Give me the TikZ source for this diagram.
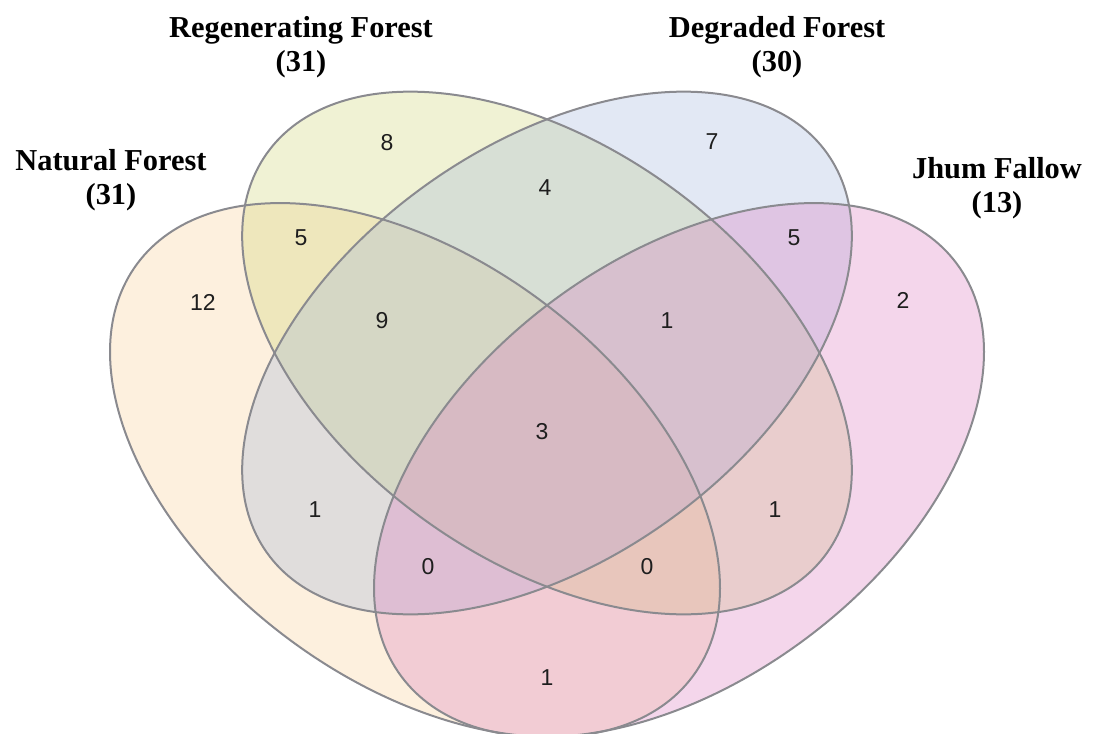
\documentclass[tikz,border=0pt]{standalone}
\usepackage{fontspec}
\setmainfont{Liberation Serif}
\newfontfamily\numfont{Liberation Sans}
\definecolor{nfcol}{RGB}{248,205,145}
\definecolor{rfcol}{RGB}{205,212,112}
\definecolor{dfcol}{RGB}{158,178,218}
\definecolor{jfcol}{RGB}{218,120,190}
\definecolor{edgecol}{RGB}{138,138,143}
\definecolor{numcol}{RGB}{30,30,30}
\begin{document}
\begin{tikzpicture}[x=0.5pt,y=0.5pt,
  setfill/.style={fill opacity=0.3},
  outline/.style={draw=edgecol, line width=1pt},
  settitle/.style={font=\fontsize{15.2}{17}\selectfont\bfseries, align=center, inner sep=0pt},
  count/.style={font=\numfont\fontsize{11.5}{13}\selectfont, text=numcol, inner sep=0pt}]
\useasboundingbox (0,0) rectangle (1096,-733);
% fills
\fill[nfcol, setfill, rotate around={-36.6:(415,-470)}] (415,-470) ellipse [x radius=346, y radius=211];
\fill[rfcol, setfill, rotate around={-35.5:(547,-353)}] (547,-353) ellipse [x radius=344, y radius=207];
\fill[dfcol, setfill, rotate around={35.5:(547,-353)}] (547,-353) ellipse [x radius=344, y radius=207];
\fill[jfcol, setfill, rotate around={36.6:(679,-470)}] (679,-470) ellipse [x radius=346, y radius=211];
% outlines
\draw[outline, rotate around={-36.6:(415,-470)}] (415,-470) ellipse [x radius=346, y radius=211];
\draw[outline, rotate around={-35.5:(547,-353)}] (547,-353) ellipse [x radius=344, y radius=207];
\draw[outline, rotate around={35.5:(547,-353)}] (547,-353) ellipse [x radius=344, y radius=207];
\draw[outline, rotate around={36.6:(679,-470)}] (679,-470) ellipse [x radius=346, y radius=211];
% titles
\node[settitle] (trf) at (301,-47) {Regenerating Forest\\(31)};
\node[settitle] (tdf) at (777,-47) {Degraded Forest\\(30)};
\node[settitle] (tnf) at (111,-180) {Natural Forest\\(31)};
\node[settitle] (tjf) at (997,-188) {Jhum Fallow\\(13)};
% counts
\node[count] (n8) at (387,-143) {8};
\node[count] (n7) at (712,-142) {7};
\node[count] (n4) at (545,-188) {4};
\node[count] (n5a) at (301,-238) {5};
\node[count] (n5b) at (794,-238) {5};
\node[count] (n12) at (203,-302) {12};
\node[count] (n9) at (382,-321) {9};
\node[count] (n1a) at (667,-321) {1};
\node[count] (n2) at (903,-300) {2};
\node[count] (n3) at (542,-432) {3};
\node[count] (n1b) at (315,-510) {1};
\node[count] (n1c) at (775,-510) {1};
\node[count] (n0a) at (428,-567) {0};
\node[count] (n0b) at (647,-567) {0};
\node[count] (n1d) at (547,-678) {1};
\end{tikzpicture}
\end{document}
